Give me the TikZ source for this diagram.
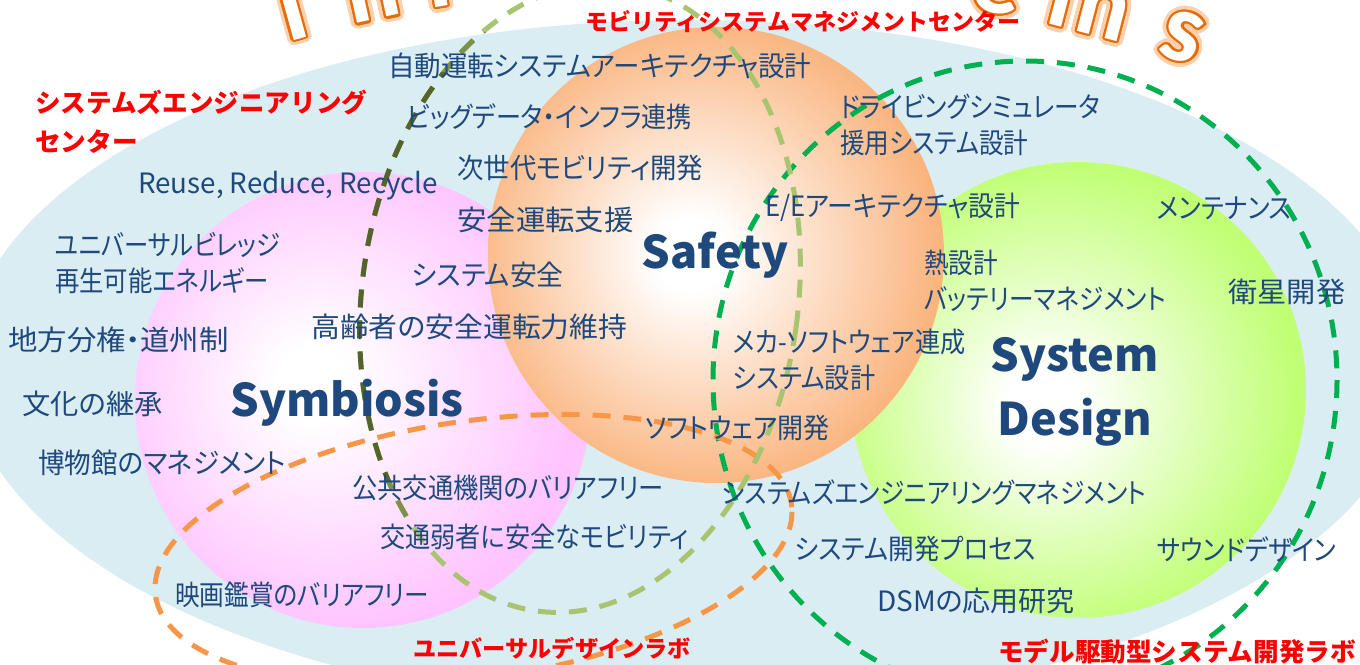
\documentclass[tikz,border=0pt]{standalone}
\usepackage{fontspec}
\usepackage[copies]{contour}
\newfontfamily\jp[RawFeature=+palt]{Noto Sans CJK JP}
\newfontfamily\jpr{Noto Sans CJK JP}
\newfontfamily\archf{Carlito}
\definecolor{bgblue}{HTML}{DAEDF3}
\definecolor{tblue}{HTML}{1F497D}
\definecolor{redC}{HTML}{FF0000}
\definecolor{gdashC}{HTML}{00B050}
\definecolor{odashC}{HTML}{F79646}
\definecolor{lgL}{HTML}{A8C470}
\definecolor{lgM}{HTML}{7E9148}
\definecolor{lgD}{HTML}{55642D}
\definecolor{archO}{HTML}{E46C0A}
\definecolor{archG}{HTML}{FCD0AA}
\definecolor{pinkA}{HTML}{FFC4FF}
\definecolor{pinkB}{HTML}{FFCCFF}
\definecolor{pinkC}{HTML}{FFD8FF}
\definecolor{orA}{HTML}{FAB47E}
\definecolor{orB}{HTML}{FABF92}
\definecolor{orC}{HTML}{FDD6B8}
\definecolor{grA}{HTML}{C0FF74}
\definecolor{grB}{HTML}{C8FF88}
\definecolor{grC}{HTML}{DAFFB0}
\pgfdeclareradialshading{pinkball}{\pgfpoint{-6bp}{2bp}}{color(0bp)=(white); color(4bp)=(white); color(26bp)=(pinkA); color(42bp)=(pinkB); color(50bp)=(pinkC)}
\pgfdeclareradialshading{orangeball}{\pgfpoint{-3bp}{0bp}}{color(0bp)=(white); color(4bp)=(white); color(26bp)=(orA); color(42bp)=(orB); color(50bp)=(orC)}
\pgfdeclareradialshading{greenball}{\pgfpoint{-4bp}{-2bp}}{color(0bp)=(white); color(4bp)=(white); color(26bp)=(grA); color(42bp)=(grB); color(50bp)=(grC)}
\newcommand{\mobEll}[1]{\draw[dashline, draw=#1, rotate around={-8:(580,298)}] (580,298) ellipse [x radius=218, y radius=316];}
\tikzset{
  dashline/.style={line width=5pt, dash pattern=on 18pt off 13pt},
  lab/.style={anchor=west, inner sep=0pt, text=tblue, font=\jp\fontsize{28}{36}\selectfont, align=left},
  redlab/.style={anchor=west, inner sep=0pt, text=redC, align=left},
  big/.style={inner sep=0pt, text=tblue, font=\jp\bfseries\fontsize{45}{64}\selectfont, align=center},
  archglow/.style={inner sep=0pt, anchor=base, font=\archf\bfseries\fontsize{100}{110}\selectfont},
}
\begin{document}
\begin{tikzpicture}[x=1pt,y=-1pt]
\path[use as bounding box] (0,0) rectangle (1360,664);
\clip (0,0) rectangle (1360,664);
\fill[white] (0,0) rectangle (1360,664);
% background ellipse
\fill[bgblue] (690,365) ellipse [x radius=725, y radius=345];
% arch title
\foreach \ch/\a/\d [count=\i] in {T/-15.4/0, h/-12.36/0, r/-9.66/0, e/-7.0/12, e/-4.4/12, S/0.5/12, y/3.2/32, s/5.8/12, t/8.2/12, e/11.04/0, m/14.58/0, s/18.2/0}{
  \node[archglow, rotate=-\a] (G\i) at ({702+(1514+\d)*sin(\a)},{1498-(1514+\d)*cos(\a)}) {\contourlength{6pt}\contour{archG}{\textcolor{archG}{\ch}}};
  \node[archglow, rotate=-\a] (A\i) at ({702+(1514+\d)*sin(\a)},{1498-(1514+\d)*cos(\a)}) {\contourlength{2.2pt}\contour{archO}{\textcolor{white}{\ch}}};
}
% balls
\shade[shading=pinkball] (363,400) circle [radius=228];
\shade[shading=greenball] (1078,390) circle [radius=228];
\shade[shading=orangeball] (716,255) circle [radius=228];
% dashed ellipses
\draw[dashline, draw=gdashC] (1025,380) ellipse [x radius=312, y radius=319];
\draw[dashline, draw=odashC, shift={(473.5,550)}, yslant=0.12] (0,0) ellipse [x radius=318.5, y radius=130];
\mobEll{lgL}
\begin{scope}
  \clip (300,72) rectangle (470,482);
  \mobEll{lgD}
\end{scope}
\begin{scope}
  \clip (300,32) rectangle (520,72) (300,482) rectangle (470,522);
  \mobEll{lgM}
\end{scope}
% labels
\node[lab, xscale=0.947] (l1) at (388,66) {自動運転システムアーキテクチャ設計};
\node[lab, xscale=0.897] (l2) at (407,117) {ビッグデータ・インフラ連携};
\node[lab, xscale=0.944] (l3) at (457,168) {次世代モビリティ開発};
\node[lab, xscale=1.05] (l4) at (457,220) {安全運転支援};
\node[lab, xscale=0.96] (l5) at (412,275) {システム安全};
\node[lab, xscale=1.03] (l6) at (311,327) {高齢者の安全運転力維持};
\node[lab, xscale=0.99] (l7) at (138,186) {Reuse, Reduce, Recycle};
\node[lab, xscale=0.87] (l8) at (55,263) {ユニバーサルビレッジ\\再生可能エネルギー};
\node[lab, xscale=1.05] (l9) at (8,340) {地方分権・道州制};
\node[lab, xscale=1.01] (l10) at (22,404) {文化の継承};
\node[lab, xscale=0.95] (l11) at (38,463) {博物館のマネジメント};
\node[lab, xscale=0.905] (l12) at (352,488) {公共交通機関のバリアフリー};
\node[lab, xscale=0.90] (l13) at (380,537) {交通弱者に安全なモビリティ};
\node[lab, xscale=0.88] (l14) at (175,595) {映画鑑賞のバリアフリー};
\node[lab, xscale=0.93] (l15) at (645,428) {ソフトウェア開発};
\node[lab, xscale=0.90] (l16) at (733,360) {メカ-ソフトウェア連成\\システム設計};
\node[lab, xscale=0.92] (l17) at (765,207) {E/Eアーキテクチャ設計};
\node[lab, xscale=0.88] (l18) at (840,125) {ドライビングシミュレータ\\援用システム設計};
\node[lab, xscale=0.88] (l19) at (924,281) {熱設計\\バッテリーマネジメント};
\node[lab, xscale=0.89] (l20) at (1157,208) {メンテナンス};
\node[lab, xscale=1.045] (l21) at (1228,292) {衛星開発};
\node[lab, xscale=0.88] (l22) at (722,493) {システムズエンジニアリングマネジメント};
\node[lab, xscale=0.917] (l23) at (795,549) {システム開発プロセス};
\node[lab, xscale=0.89] (l24) at (1157,549) {サウンドデザイン};
\node[lab, xscale=1.0] (l25) at (877,601) {DSMの応用研究};
% big labels
\node[big] (sym) at (347,403) {Symbiosis};
\node[big] (saf) at (715,255) {Safety};
\node[big] (sd) at (1075,392) {System\\Design};
% red labels
\node[redlab, font=\jpr\bfseries\fontsize{25.6}{39}\selectfont] (r1) at (35,122) {システムズエンジニアリング\\センター};
\node[redlab, font=\jpr\bfseries\fontsize{23}{30}\selectfont] (r2) at (585,22) {モビリティシステムマネジメントセンター};
\node[redlab, font=\jpr\bfseries\fontsize{23.2}{30}\selectfont] (r3) at (413,648) {ユニバーサルデザインラボ};
\node[redlab, font=\jpr\bfseries\fontsize{25.6}{30}\selectfont] (r4) at (998,652) {モデル駆動型システム開発ラボ};
\end{tikzpicture}
\end{document}
